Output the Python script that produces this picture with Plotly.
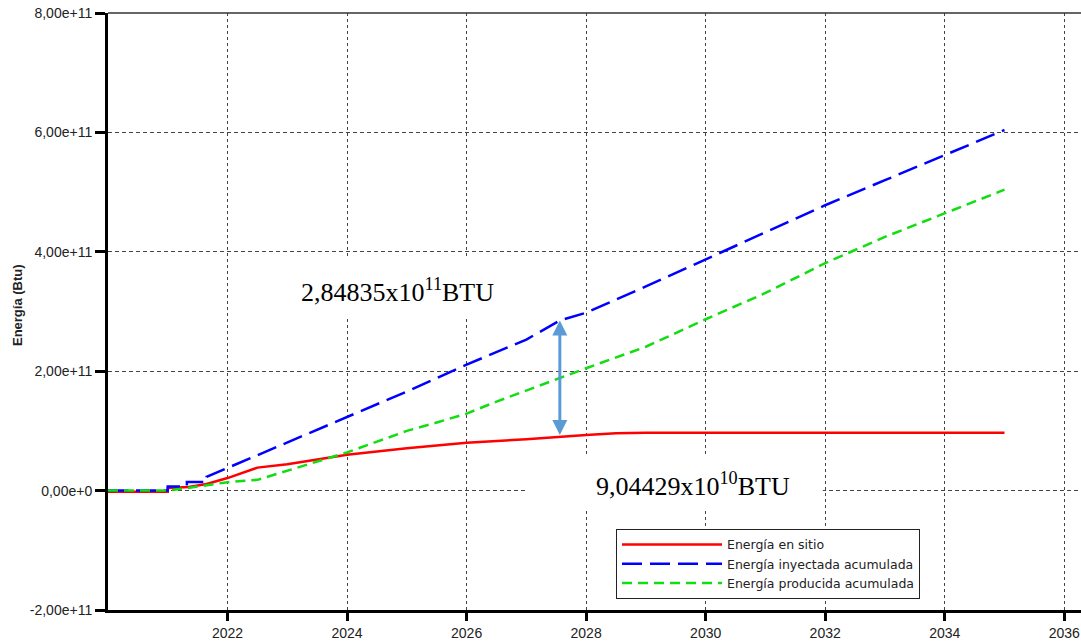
import numpy as np
import plotly.graph_objects as go

# Time axis (decimal years) and cumulative energy series, in units of 1e11 Btu
t_sitio = [2020.0, 2021.0, 2021.0, 2021.35, 2021.65, 2022.0, 2022.5, 2023.0, 2023.5,
           2024.0, 2025.0, 2026.0, 2027.0, 2027.56, 2028.0, 2028.5, 2029.0, 2035.0]
e_sitio = [-0.02, -0.02, 0.045, 0.06, 0.11, 0.21, 0.385, 0.44, 0.52,
           0.60, 0.71, 0.80, 0.86, 0.904429, 0.93, 0.96, 0.97, 0.97]

t_inyectada = [2020.0, 2021.0, 2021.0, 2021.32, 2021.32, 2021.65, 2021.65, 2022.0, 2023.0,
               2024.0, 2025.0, 2026.0, 2027.0, 2027.56, 2028.0, 2029.0, 2030.0, 2031.0,
               2032.0, 2033.0, 2034.0, 2035.0]
e_inyectada = [0.0, 0.0, 0.067, 0.067, 0.146, 0.146, 0.23, 0.38, 0.80,
               1.23, 1.66, 2.11, 2.53, 2.84835, 2.98, 3.42, 3.87, 4.33,
               4.78, 5.20, 5.62, 6.04]

t_producida = [2020.0, 2021.0, 2021.3, 2021.65, 2022.0, 2022.5, 2023.0, 2023.5, 2024.0,
               2024.5, 2025.0, 2025.5, 2026.0, 2026.5, 2027.0, 2027.5, 2028.0, 2029.0,
               2030.0, 2031.0, 2032.0, 2033.0, 2034.0, 2035.0]
e_producida = [0.0, 0.0, 0.04, 0.09, 0.14, 0.18, 0.33, 0.49, 0.64,
               0.82, 1.0, 1.14, 1.29, 1.49, 1.68, 1.87, 2.05, 2.41,
               2.87, 3.31, 3.81, 4.25, 4.64, 5.04]

series_names = ["Energía en sitio", "Energía inyectada acumulada", "Energía producida acumulada"]

x_tickvals = [2022, 2024, 2026, 2028, 2030, 2032, 2034, 2036]
x_ticktext = ["2022", "2024", "2026", "2028", "2030", "2032", "2034", "2036"]
y_tickvals = [-2e11, 0, 2e11, 4e11, 6e11, 8e11]
y_ticktext = ["-2,00e+11", "0,00e+0", "2,00e+11", "4,00e+11", "6,00e+11", "8,00e+11"]

# Values quoted in the callouts (Btu)
valor_inyectada = 2.84835e11
valor_sitio = 9.04429e10
t_flecha = 2027.56

SCALE = 1e11

fig = go.Figure()
fig.add_trace(go.Scatter(x=t_sitio, y=np.array(e_sitio) * SCALE, mode="lines",
                         name=series_names[0], line=dict(color="#ff0000", width=2.5)))
fig.add_trace(go.Scatter(x=t_inyectada, y=np.array(e_inyectada) * SCALE, mode="lines",
                         name=series_names[1],
                         line=dict(color="#0000ff", width=2.5, dash="20px,8px")))
fig.add_trace(go.Scatter(x=t_producida, y=np.array(e_producida) * SCALE, mode="lines",
                         name=series_names[2],
                         line=dict(color="#11dd11", width=2.5, dash="10px,6px")))

grid = dict(showgrid=True, gridcolor="#444444", gridwidth=1, automargin=False)
tick_font = dict(family="Liberation Sans, Arial", size=14, color="#222222")

fig.update_xaxes(range=[2020, 2036.28], tickvals=x_tickvals, ticktext=x_ticktext,
                 ticks="outside", ticklen=8, tickwidth=3, tickcolor="black",
                 showline=True, linecolor="black", linewidth=3, zeroline=False,
                 griddash="3px,3px", ticklabelstandoff=0, tickfont=tick_font, **grid)
fig.update_yaxes(range=[-2e11, 8e11], tickvals=y_tickvals, ticktext=y_ticktext,
                 ticks="outside", ticklen=10, tickwidth=2.5, tickcolor="black",
                 showline=True, linecolor="black", linewidth=3, zeroline=False,
                 griddash="4px,3px", tickfont=tick_font, **grid)

# White text boxes that hide the grid behind the callouts
fig.add_shape(type="rect", xref="x", yref="y", x0=2022.21, x1=2027.48,
              y0=2.893e11, y1=3.93e11, fillcolor="white", line_width=0, layer="between")
fig.add_shape(type="rect", xref="x", yref="y", x0=2026.98, x1=2031.96,
              y0=-0.323e11, y1=0.598e11, fillcolor="white", line_width=0, layer="between")

# Top frame line
fig.add_shape(type="line", xref="paper", yref="paper", x0=0, x1=1, y0=1, y1=1,
              line=dict(color="#333333", width=1.5))

serif = dict(family="Liberation Serif, Times New Roman", size=26, color="black")
fig.add_annotation(x=2024.85, y=3.345e11, text="2,84835x10<sup>11</sup>BTU",
                   showarrow=False, font=serif, xanchor="center", yanchor="middle")
fig.add_annotation(x=2029.79, y=0.095e11, text="9,04429x10<sup>10</sup>BTU",
                   showarrow=False, font=serif, xanchor="center", yanchor="middle")

# Double-headed arrow spanning the gap between injected and in-place energy
fig.add_annotation(x=t_flecha, y=valor_inyectada, ax=t_flecha, ay=valor_sitio,
                   xref="x", yref="y", axref="x", ayref="y", text="",
                   showarrow=True, arrowhead=2, startarrowhead=2, arrowside="end+start",
                   arrowwidth=3, arrowsize=1, startarrowsize=1, arrowcolor="#5b9bd5")

# Y-axis title
fig.add_annotation(xref="paper", yref="paper", x=-0.093, y=0.51, text="<b>Energía (Btu)</b>",
                   textangle=-90, showarrow=False, xanchor="center", yanchor="middle",
                   font=dict(family="Liberation Sans, Arial", size=13, color="#222222"))

fig.update_layout(
    width=1081, height=642,
    margin=dict(l=108, r=0, t=13, b=32, autoexpand=False),
    paper_bgcolor="white", plot_bgcolor="white",
    showlegend=True,
    legend=dict(x=0.5221, y=0.1357, xanchor="left", yanchor="top",
                bgcolor="white", bordercolor="#222222", borderwidth=1,
                itemwidth=100, tracegroupgap=0,
                font=dict(family="DejaVu Sans", size=12.5, color="#222222")),
)

fig.write_html("out.html")
